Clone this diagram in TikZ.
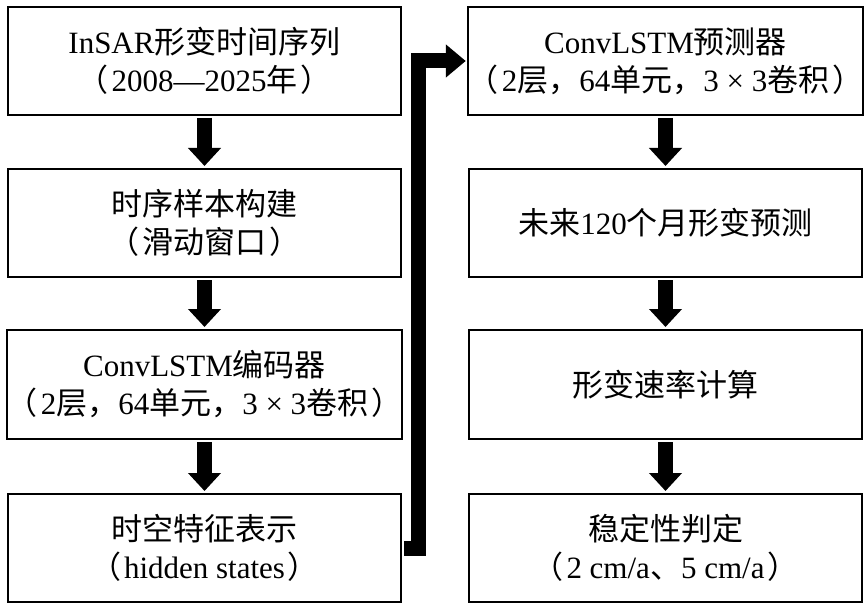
\documentclass[tikz,border=0pt]{standalone}
\usepackage{fontspec}
\setmainfont{Liberation Serif}
\newfontfamily\cjk{Noto Sans CJK SC}
\usetikzlibrary{arrows.meta}
\newcommand{\lp}{{\cjk （}\hspace{3pt}}
\newcommand{\rp}{\hspace{3pt}{\cjk ）}}
\tikzset{
  x=1pt, y=-1pt,
  box/.style={draw=black, line width=2pt, minimum width=393pt, minimum height=108pt,
    inner sep=0pt, align=center, font=\fontsize{31}{38}\selectfont},
  flow/.style={line width=15pt, -{Triangle[width=32pt,length=18pt]}, shorten <=2pt, shorten >=2pt},
  link/.style={line width=15pt, line join=miter, -{Triangle[width=32pt,length=20pt]}, shorten <=2pt, shorten >=1pt}
}
\begin{document}
\begin{tikzpicture}
\fill[white] (0,0) rectangle (866,609);
\useasboundingbox (0,0) rectangle (866,609);
% left column
\node[box] (L1) at (204.5,61) {InSAR{\cjk 形变时间序列}\\\lp 2008—2025{\cjk 年}\rp};
\node[box] (L2) at (204.5,223) {{\cjk 时序样本构建}\\\lp{\cjk 滑动窗口}\rp};
\node[box, minimum height=109pt] (L3) at (204.5,384.5) {ConvLSTM{\cjk 编码器}\\\lp 2{\cjk 层，}64{\cjk 单元，}3 × 3{\cjk 卷积}\rp};
\node[box] (L4) at (204.5,548) {{\cjk 时空特征表示}\\\lp hidden states\rp};
% right column
\node[box] (R1) at (665.5,61) {ConvLSTM{\cjk 预测器}\\\lp 2{\cjk 层，}64{\cjk 单元，}3 × 3{\cjk 卷积}\rp};
\node[box] (R2) at (665.5,223) {{\cjk 未来}120{\cjk 个月形变预测}};
\node[box, minimum height=109pt] (R3) at (665.5,384.5) {{\cjk 形变速率计算}};
\node[box] (R4) at (665.5,548) {{\cjk 稳定性判定}\\\lp 2 cm/a{\cjk 、}5 cm/a\rp};
% arrows
\draw[flow] (L1) -- (L2);
\draw[flow] (L2) -- (L3);
\draw[flow] (L3) -- (L4);
\draw[flow] (R1) -- (R2);
\draw[flow] (R2) -- (R3);
\draw[flow] (R3) -- (R4);
\coordinate (bx) at (418.5,0);
\draw[link] (L4.east) -- (L4.east -| bx) |- (R1.west);
\end{tikzpicture}
\end{document}
